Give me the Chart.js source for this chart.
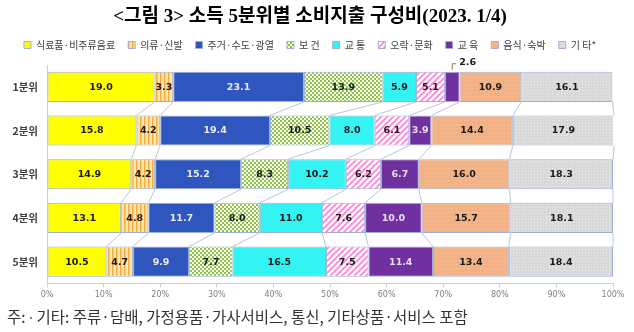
<!DOCTYPE html>
<html>
<head>
<meta charset="utf-8">
<script src="https://cdn.jsdelivr.net/npm/chart.js@4"></script>
<style>
  body { margin: 0; background: #fff; }
  #wrap { width: 634px; height: 332px; }
</style>
</head>
<body>
<div id="wrap"><canvas id="mixChart" width="634" height="332"></canvas></div>
<script>
// 소득 5분위별 소비지출 구성비 (%)
const quintiles = ['1분위', '2분위', '3분위', '4분위', '5분위'];
const seriesNames = ['식료품·비주류음료', '의류·신발', '주거·수도·광열', '보 건', '교 통', '오락·문화', '교 육', '음식·숙박', '기 타*'];

const food      = [19.0, 15.8, 14.9, 13.1, 10.5];
const clothing  = [3.3, 4.2, 4.2, 4.8, 4.7];
const housing   = [23.1, 19.4, 15.2, 11.7, 9.9];
const health    = [13.9, 10.5, 8.3, 8.0, 7.7];
const transport = [5.9, 8.0, 10.2, 11.0, 16.5];
const culture   = [5.1, 6.1, 6.2, 7.6, 7.5];
const education = [2.6, 3.9, 6.7, 10.0, 11.4];
const dining    = [10.9, 14.4, 16.0, 15.7, 13.4];
const others    = [16.1, 17.9, 18.3, 18.1, 18.4];

const xTicks = [0, 10, 20, 30, 40, 50, 60, 70, 80, 90, 100];

function makePattern(size, bg, fg, draw) {
  const c = document.createElement('canvas');
  c.width = size; c.height = size;
  const g = c.getContext('2d');
  g.fillStyle = bg; g.fillRect(0, 0, size, size);
  g.fillStyle = fg; g.strokeStyle = fg;
  draw(g, size);
  return g.createPattern(c, 'repeat');
}

const stripesV = makePattern(4, '#FFE6A8', '#F2AE44', (g) => { g.fillRect(0, 0, 1.5, 4); });
const checker = makePattern(4, '#FFFFFF', '#8CC63F', (g) => { g.fillRect(0, 0, 2, 2); g.fillRect(2, 2, 2, 2); });
const diag = makePattern(6, '#FFFFFF', '#FF80D5', (g, s) => {
  g.lineWidth = 1.6;
  g.beginPath();
  g.moveTo(-1, s + 1); g.lineTo(s + 1, -1);
  g.moveTo(-1, 1); g.lineTo(1, -1);
  g.moveTo(s - 1, s + 1); g.lineTo(s + 1, s - 1);
  g.stroke();
});
const salmon = makePattern(4, '#F4B183', '#F7C29C', (g) => { g.fillRect(0, 0, 1, 1); });
const grey = makePattern(3, '#D9D9D9', '#EBEBEB', (g) => { g.fillRect(0, 0, 1, 1); });

const seriesData = [food, clothing, housing, health, transport, culture, education, dining, others];
const fills = ['#FFFF00', stripesV, '#2F55BE', checker, '#33F3F3', diag, '#7030A0', salmon, grey];
const labelColors = ['#1A1A1A', '#1A1A1A', '#E8ECF8', '#1A1A1A', '#1A1A1A', '#1A1A1A', '#E6DDF0', '#1A1A1A', '#1A1A1A'];

// series lines between bars (like Excel stacked bar)
const seriesLines = {
  id: 'seriesLines',
  beforeDatasetsDraw(chart) {
    const ctx = chart.ctx;
    ctx.save();
    ctx.strokeStyle = '#B7C4E0';
    ctx.lineWidth = 1;
    chart.data.datasets.forEach((ds, i) => {
      const bars = chart.getDatasetMeta(i).data;
      for (let j = 0; j < bars.length - 1; j++) {
        const a = bars[j], b = bars[j + 1];
        ctx.beginPath();
        ctx.moveTo(a.x, a.y + a.height / 2);
        ctx.lineTo(b.x, b.y - b.height / 2);
        ctx.stroke();
      }
    });
    ctx.restore();
  }
};

const segLabels = {
  id: 'segLabels',
  afterDatasetsDraw(chart) {
    const ctx = chart.ctx;
    ctx.save();
    ctx.font = 'bold 9.5px "DejaVu Sans"';
    ctx.textBaseline = 'middle';
    chart.data.datasets.forEach((ds, i) => {
      chart.getDatasetMeta(i).data.forEach((bar, j) => {
        const txt = ds.data[j].toFixed(1);
        const mid = (bar.x + bar.base) / 2;
        if (Math.abs(bar.x - bar.base) < 16) {
          // too small: callout above the bar
          const top = bar.y - bar.height / 2;
          ctx.strokeStyle = '#808080';
          ctx.lineWidth = 1;
          ctx.beginPath();
          ctx.moveTo(mid, top - 2);
          ctx.lineTo(mid, top - 8);
          ctx.lineTo(mid + 4, top - 8);
          ctx.stroke();
          ctx.fillStyle = '#1A1A1A';
          ctx.textAlign = 'left';
          ctx.fillText(txt, mid + 7, top - 9);
        } else {
          ctx.fillStyle = labelColors[i];
          ctx.textAlign = 'center';
          ctx.fillText(txt, mid, bar.y + 0.5);
        }
      });
    });
    ctx.restore();
  }
};

new Chart(document.getElementById('mixChart'), {
  type: 'bar',
  data: {
    labels: quintiles,
    datasets: seriesNames.map((name, i) => ({
      label: name,
      data: seriesData[i],
      backgroundColor: fills[i],
      borderColor: '#9DB1D8',
      borderWidth: 1,
      borderSkipped: false,
      xAxisID: 'x',
      barPercentage: 0.69,
      categoryPercentage: 1
    }))
  },
  options: {
    indexAxis: 'y',
    responsive: false,
    animation: false,
    layout: { padding: { top: 0, left: 7, right: 21, bottom: 0 } },
    plugins: {
      title: {
        display: true,
        text: '<그림 3> 소득 5분위별 소비지출 구성비(2023. 1/4)',
        color: '#000',
        font: { family: '"Liberation Serif", "Noto Sans CJK KR"', size: 19, weight: 'bold', lineHeight: 1 },
        padding: { top: 8, bottom: 0 }
      },
      subtitle: {
        display: true,
        position: 'bottom',
        align: 'start',
        text: '주: ∙ 기타: 주류·담배, 가정용품·가사서비스, 통신, 기타상품·서비스 포함',
        color: '#333',
        font: { family: '"Noto Sans CJK KR"', size: 15.5 },
        padding: { top: 6, bottom: 6 }
      },
      legend: {
        position: 'top',
        labels: {
          boxWidth: 7,
          boxHeight: 7,
          padding: 13,
          color: '#404040',
          font: { family: '"Noto Sans CJK KR"', size: 10 }
        }
      },
      tooltip: { enabled: false }
    },
    scales: {
      x: {
        stacked: true,
        min: 0,
        max: 100,
        afterFit: (s) => { s.height = 18; },
        afterBuildTicks: (s) => { s.ticks = xTicks.map(v => ({ value: v })); },
        ticks: {
          callback: (v) => v + '%',
          color: '#808080',
          font: { family: '"DejaVu Sans"', size: 8 },
          padding: 3,
          maxRotation: 0
        },
        grid: { drawOnChartArea: false, drawTicks: true, tickLength: 4, color: '#D0D0D0' },
        border: { color: '#D0D0D0' }
      },
      xTop: {
        position: 'top',
        display: true,
        afterFit: (s) => { s.height = 5; },
        ticks: { display: false },
        grid: { display: false },
        border: { display: false }
      },
      y: {
        stacked: true,
        afterFit: (s) => { s.width = 40; },
        ticks: {
          color: '#404040',
          padding: 9,
          font: { family: '"Noto Sans CJK KR"', size: 10.5, weight: 'bold' }
        },
        grid: { display: false, drawTicks: false },
        border: { color: '#D0D0D0' }
      }
    }
  },
  plugins: [seriesLines, segLabels]
});
</script>
</body>
</html>
